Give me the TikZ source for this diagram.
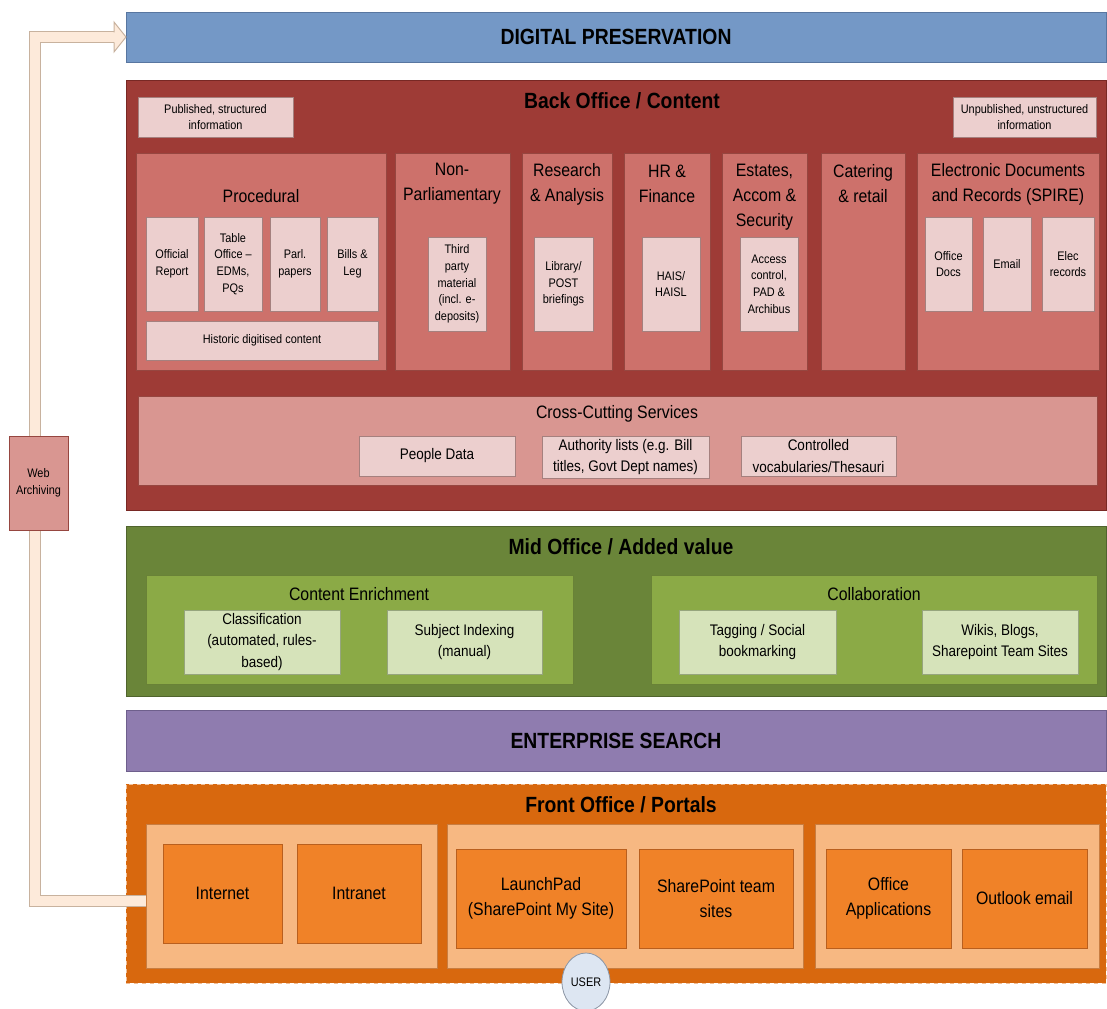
\documentclass[tikz,border=0pt]{standalone}
\usepackage{fontspec}
\setmainfont{Liberation Sans}[FakeStretch=0.88]
\usetikzlibrary{calc,shapes.geometric}

% palette
\definecolor{dpBlue}{RGB}{116,152,198}
\definecolor{dpLine}{RGB}{88,118,160}
\definecolor{boRed}{RGB}{158,59,54}
\definecolor{boLine}{RGB}{120,40,36}
\definecolor{boSalmon}{RGB}{205,113,107}
\definecolor{boSalLine}{RGB}{150,70,64}
\definecolor{boPink}{RGB}{236,207,206}
\definecolor{boPinkLine}{RGB}{165,128,126}
\definecolor{boCross}{RGB}{217,150,145}
\definecolor{moGreen}{RGB}{106,133,57}
\definecolor{moLine}{RGB}{80,100,45}
\definecolor{moMid}{RGB}{139,170,70}
\definecolor{moMidLine}{RGB}{105,130,55}
\definecolor{moLight}{RGB}{214,227,186}
\definecolor{moLightLine}{RGB}{150,165,125}
\definecolor{esPurple}{RGB}{143,124,175}
\definecolor{esLine}{RGB}{110,95,140}
\definecolor{foOrange}{RGB}{216,104,14}
\definecolor{foDash}{RGB}{240,190,150}
\definecolor{foLight}{RGB}{247,184,130}
\definecolor{foLightLine}{RGB}{200,125,65}
\definecolor{foItem}{RGB}{240,130,40}
\definecolor{foItemLine}{RGB}{185,95,30}
\definecolor{bandFill}{RGB}{253,234,218}
\definecolor{bandLine}{RGB}{200,178,158}
\definecolor{userFill}{RGB}{221,230,242}
\definecolor{userLine}{RGB}{140,150,165}

% type sizes
\newcommand\fHead{\fontsize{16.5}{19}\selectfont\bfseries}
\newcommand\fTitle{\fontsize{13.5}{18.75}\selectfont}
\newcommand\fMed{\fontsize{11.5}{16}\selectfont}
\newcommand\fSmall{\fontsize{9.3}{12.5}\selectfont}
\newcommand\fFront{\fontsize{13.5}{18.5}\selectfont}

% box from corner (x1,y1) to corner (x2,y2), in pixel units (1px = 0.75pt)
\newcommand\pxbox[7]{\node[#1, anchor=north west,
  minimum width={(#5-#3)*0.75pt}, minimum height={(#6-#4)*0.75pt}]
  (#2) at (#3,#4) {#7};}

\begin{document}
\begin{tikzpicture}[x=0.75pt, y=-0.75pt,
  base/.style={inner sep=0pt, outer sep=0pt, align=center, line width=0.6pt, text=black},
  dpbar/.style={base, fill=dpBlue, draw=dpLine, font=\fHead},
  backbox/.style={base, fill=boRed, draw=boLine},
  salbox/.style={base, fill=boSalmon, draw=boSalLine},
  pinkbox/.style={base, fill=boPink, draw=boPinkLine, font=\fSmall},
  crossbox/.style={base, fill=boCross, draw=boSalLine},
  pinkmed/.style={base, fill=boPink, draw=boPinkLine, font=\fMed},
  midbox/.style={base, fill=moGreen, draw=moLine},
  cebox/.style={base, fill=moMid, draw=moMidLine},
  greenitem/.style={base, fill=moLight, draw=moLightLine, font=\fMed},
  esbar/.style={base, fill=esPurple, draw=esLine, font=\fHead},
  frontbox/.style={base, fill=foOrange, draw=foDash, dashed},
  fgroup/.style={base, fill=foLight, draw=foLightLine},
  fitem/.style={base, fill=foItem, draw=foItemLine, font=\fFront},
  headtext/.style={inner sep=0pt, align=center, font=\fHead},
  titletext/.style={inner sep=0pt, align=center, font=\fTitle},
  band/.style={draw=bandLine, line width=0.75pt, double=bandFill, double distance=7.5pt},
  webarch/.style={base, fill=boCross, draw=boSalLine, font=\fSmall},
  userbubble/.style={ellipse, inner sep=0pt, fill=userFill, draw=userLine, line width=0.6pt,
    minimum width=36pt, minimum height=43.5pt, font=\fSmall}
]
\useasboundingbox (0,0) rectangle (1107,1009);
\clip (0,0) rectangle (1107,1009);

% ---------------- Digital preservation ----------------
\pxbox{dpbar}{dp}{126}{12}{1106}{62}{DIGITAL PRESERVATION}

% ---------------- Back office ----------------
\pxbox{backbox}{bo}{126}{80}{1106}{510}{}
\node[headtext] (boT) at (622,101) {Back Office / Content};
\pxbox{pinkbox}{pub}{138}{97}{293}{137}{Published, structured\\information}
\pxbox{pinkbox}{unpub}{953}{97}{1096}{137}{Unpublished, unstructured\\information}

% Procedural
\pxbox{salbox}{proc}{136}{153}{386}{370}{}
\node[titletext] (procT) at (261,196) {Procedural};
\pxbox{pinkbox}{offrep}{146}{217}{198}{311}{Official\\Report}
\pxbox{pinkbox}{tbloff}{204}{217}{262}{311}{Table\\Office –\\EDMs,\\PQs}
\pxbox{pinkbox}{parl}{270}{217}{320}{311}{Parl.\\papers}
\pxbox{pinkbox}{bills}{327}{217}{378}{311}{Bills \&\\Leg}
\pxbox{pinkbox}{hist}{146}{321}{378}{360}{Historic digitised content}

% Non-Parliamentary
\pxbox{salbox}{nonparl}{395}{153}{510}{370}{}
\node[titletext] (nonparlT) at (452,184) {Non-\\Parliamentary};
\pxbox{pinkbox}{third}{428}{237}{486}{331}{Third\\party\\material\\(incl. e-\\deposits)}

% Research & Analysis
\pxbox{salbox}{research}{522}{153}{612}{370}{}
\node[titletext] (researchT) at (567,184) {Research\\\& Analysis};
\pxbox{pinkbox}{library}{534}{237}{593}{331}{Library/\\POST\\briefings}

% HR & Finance
\pxbox{salbox}{hr}{624}{153}{710}{370}{}
\node[titletext] (hrT) at (667,184) {HR \&\\Finance};
\pxbox{pinkbox}{hais}{642}{237}{700}{331}{HAIS/\\HAISL}

% Estates
\pxbox{salbox}{estates}{722}{153}{807}{370}{}
\node[titletext] (estatesT) at (764.5,197) {Estates,\\Accom \&\\Security};
\pxbox{pinkbox}{access}{740}{237}{798}{331}{Access\\control,\\PAD \&\\Archibus}

% Catering
\pxbox{salbox}{catering}{821}{153}{905}{370}{}
\node[titletext] (cateringT) at (863,184) {Catering\\\& retail};

% Electronic documents
\pxbox{salbox}{edrm}{917}{153}{1099}{370}{}
\node[titletext] (edrmT) at (1008,184) {Electronic Documents\\and Records (SPIRE)};
\pxbox{pinkbox}{docs}{925}{217}{972}{311}{Office\\Docs}
\pxbox{pinkbox}{email}{983}{217}{1031}{311}{Email}
\pxbox{pinkbox}{elecrec}{1042}{217}{1094}{311}{Elec\\records}

% Cross-cutting services
\pxbox{crossbox}{cross}{138}{396}{1097}{485}{}
\node[titletext] (crossT) at (617,414) {Cross-Cutting Services};
\pxbox{pinkmed}{people}{359}{436}{515}{476}{People Data}
\pxbox{pinkmed}{authority}{542}{436}{709}{478}{Authority lists (e.g. Bill\\titles, Govt Dept names)}
\pxbox{pinkmed}{vocab}{741}{436}{896}{476}{Controlled\\vocabularies/Thesauri}

% ---------------- Mid office ----------------
\pxbox{midbox}{mo}{126}{526}{1106}{696}{}
\node[headtext] (moT) at (621,547) {Mid Office / Added value};
\pxbox{cebox}{enrich}{146}{575}{573}{684}{}
\node[titletext] (enrichT) at (359,594) {Content Enrichment};
\pxbox{greenitem}{classif}{184}{610}{340}{674}{Classification\\(automated, rules-\\based)}
\pxbox{greenitem}{subject}{387}{610}{542}{674}{Subject Indexing\\(manual)}
\pxbox{cebox}{collab}{651}{575}{1097}{684}{}
\node[titletext] (collabT) at (874,594) {Collaboration};
\pxbox{greenitem}{tagging}{679}{610}{836}{674}{Tagging / Social\\bookmarking}
\pxbox{greenitem}{wikis}{922}{610}{1078}{674}{Wikis, Blogs,\\Sharepoint Team Sites}

% ---------------- Enterprise search ----------------
\pxbox{esbar}{es}{126}{710}{1106}{771}{ENTERPRISE SEARCH}

% ---------------- Front office ----------------
\pxbox{frontbox}{fo}{126}{784}{1106}{983}{}
\node[headtext] (foT) at (621,805) {Front Office / Portals};
\pxbox{fgroup}{grpweb}{146}{824}{437}{968}{}
\pxbox{fitem}{internet}{163}{844}{282}{943}{Internet}
\pxbox{fitem}{intranet}{297}{844}{421}{943}{Intranet}
\pxbox{fgroup}{grpsp}{447}{824}{803}{968}{}
\pxbox{fitem}{launchpad}{456}{849}{626}{948}{LaunchPad\\(SharePoint My Site)}
\pxbox{fitem}{spteam}{639}{849}{793}{948}{SharePoint team\\sites}
\pxbox{fgroup}{grpoff}{815}{824}{1099}{968}{}
\pxbox{fitem}{officeapp}{826}{849}{951}{948}{Office\\Applications}
\pxbox{fitem}{outlook}{962}{849}{1087}{948}{Outlook email}

% ---------------- Web archiving feedback band ----------------
\coordinate (bandstart) at ($(grpweb.west)+(0,5)$);
\coordinate (headbase) at ($(dp.west)+(-12,0.5)$);
\draw[band, line join=miter] (bandstart) -| (35,37.5) -- (headbase);
\fill[bandFill] ($(dp.west)+(-12,-15)$) -- (dp.west) -- ($(dp.west)+(-12,15)$) -- cycle;
\draw[draw=bandLine, line width=0.75pt, line join=miter]
  ($(dp.west)+(-12,-4.5)$) -- ($(dp.west)+(-12,-15)$) -- (dp.west)
  -- ($(dp.west)+(-12,15)$) -- ($(dp.west)+(-12,5.5)$);
\pxbox{webarch}{web}{9}{436}{68}{530}{Web\\Archiving}

% ---------------- User ----------------
\node[userbubble] (user) at (586,982) {USER};
\end{tikzpicture}
\end{document}
